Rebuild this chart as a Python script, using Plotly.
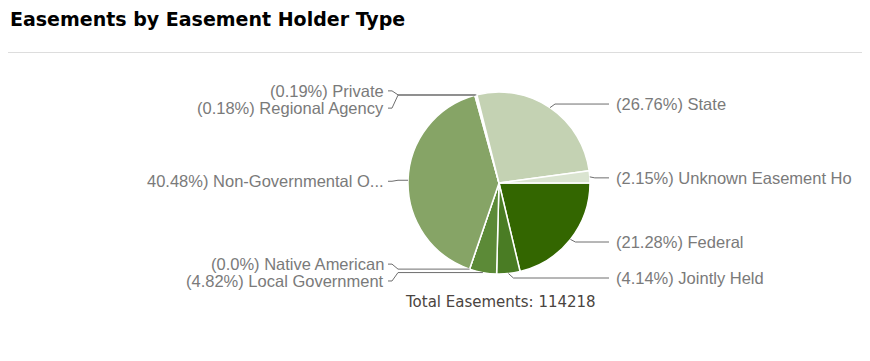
import math
import plotly.graph_objects as go

# ---- data ----
holder_types = ["Federal", "Jointly Held", "Local Government", "Native American",
                "Non-Governmental Organization", "Regional Agency", "Private",
                "State", "Unknown Easement Holder"]
label_texts = ["Federal", "Jointly Held", "Local Government", "Native American",
               "Non-Governmental O...", "Regional Agency", "Private",
               "State", "Unknown Easement Ho"]
percents = [21.28, 4.14, 4.82, 0.0, 40.48, 0.18, 0.19, 26.76, 2.15]
pct_labels = ["21.28", "4.14", "4.82", "0.0", "40.48", "0.18", "0.19", "26.76", "2.15"]
total_easements = 114218
slice_colors = ["#336600", "#4a7c24", "#5c8a37", "#6f9a4a", "#86a466",
                "#a9bd91", "#b7c9a3", "#c4d2b3", "#dae4d0"]

# ---- layout helpers (page pixel geometry; page has an 8px body margin) ----
W, H = 870, 361
OFF = 8
CX, CY, R = 499, 183, 91
ROT = 90
label_dy = [2.6, 4.5, 8.4, -5, 1, 13, -4, -3.6, 1]
RIGHT_LINE_END, RIGHT_TEXT_X = 609, 614
LEFT_LINE_END, LEFT_TEXT_X = 388, 386

fig = go.Figure()
fig.add_trace(go.Pie(
    labels=holder_types, values=percents, sort=False, direction="clockwise",
    rotation=ROT, textinfo="none", hoverinfo="label+percent",
    marker=dict(colors=slice_colors, line=dict(color="white", width=1.5)),
    domain=dict(x=[(CX - OFF - R) / W, (CX - OFF + R) / W],
                y=[(H - (CY - OFF) - R) / H, (H - (CY - OFF) + R) / H]),
    showlegend=False,
))

shapes = []
annotations = []
tot = sum(percents)
cum = 0.0
for i, v in enumerate(percents):
    mid = ROT + 360 * (cum + v / 2) / tot
    cum += v
    th = math.radians(mid)
    ax, ay = CX + R * math.sin(th), CY - R * math.cos(th)
    ly = ay + label_dy[i]
    right = math.sin(th) > 0
    if right:
        path = f"M {ax},{ay} L {ax + 5},{ly} L {RIGHT_LINE_END},{ly}"
        tx, anchor = RIGHT_TEXT_X, "left"
        txt = f"({pct_labels[i]}%) {label_texts[i]}"
    else:
        path = f"M {ax},{ay} L {LEFT_LINE_END + 10},{ay} L {LEFT_LINE_END + 4},{ly} L {LEFT_LINE_END},{ly}"
        tx, anchor = LEFT_TEXT_X, "right"
        txt = f"({pct_labels[i]}%) {label_texts[i]}"
        if label_texts[i].startswith("Non-Gov"):
            txt = f"{pct_labels[i]}%) {label_texts[i]}"
    shapes.append(dict(type="path", path=path, xref="x", yref="y",
                       line=dict(color="#6e6e6e", width=1), layer="above"))
    annotations.append(dict(x=tx, y=ly, xref="x", yref="y", text=txt, showarrow=False,
                            xanchor=anchor, yanchor="middle",
                            font=dict(family="Liberation Sans, Arial", size=16.5, color="#7a7a7a")))

# title, rule, total
annotations.append(dict(x=8, y=19, xref="x", yref="y", text="<b>Easements by Easement Holder Type</b>",
                        showarrow=False, xanchor="left", yanchor="middle",
                        font=dict(family="DejaVu Sans", size=19, color="#000000")))
shapes.append(dict(type="line", x0=8, x1=868, y0=52.5, y1=52.5, xref="x", yref="y",
                   line=dict(color="#dddddd", width=1)))
annotations.append(dict(x=500, y=302, xref="x", yref="y", text=f"Total Easements: {total_easements}",
                        showarrow=False, xanchor="center", yanchor="middle",
                        font=dict(family="DejaVu Sans", size=15, color="#4a4440")))

fig.update_layout(
    width=W, height=H, margin=dict(l=0, r=0, t=0, b=0),
    paper_bgcolor="white", plot_bgcolor="rgba(0,0,0,0)",
    xaxis=dict(range=[OFF, W + OFF], visible=False, fixedrange=True),
    yaxis=dict(range=[H + OFF, OFF], visible=False, fixedrange=True),
    shapes=shapes, annotations=annotations,
)
fig.write_html("out.html")
